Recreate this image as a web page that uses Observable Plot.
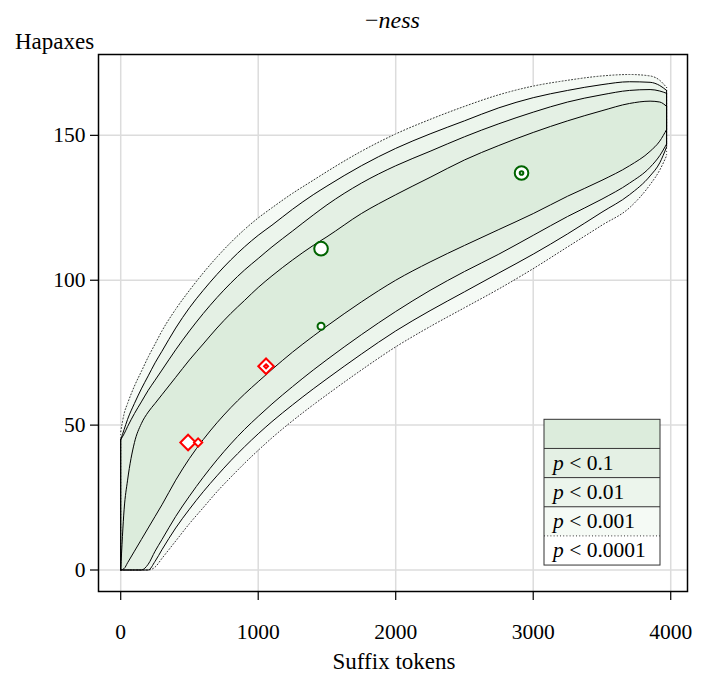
<!DOCTYPE html>
<html>
<head>
<meta charset="utf-8">
<script src="https://cdn.jsdelivr.net/npm/d3@7"></script>
<script src="https://cdn.jsdelivr.net/npm/@observablehq/plot@0.6"></script>
<style>
  html, body { margin: 0; padding: 0; background: #ffffff; }
  #chart { width: 705px; height: 676px; }
</style>
</head>
<body>
<div id="chart"></div>
<script>
// ---- data ----
const tokens        = [0, 25, 50, 100, 150, 200, 250, 300, 400, 500, 600, 700, 800, 900, 1000, 1100, 1250, 1400, 1500, 1750, 2000, 2250, 2500, 2750, 3000, 3250, 3500, 3700, 3850, 3920, 3970];
const dottedUpper   = [47.7, 54, 57.5, 63.5, 68.5, 73.5, 78, 82.5, 90, 96.5, 102.5, 108, 113, 117.5, 121.5, 125, 130, 134.5, 137.5, 144.5, 150.5, 155.5, 160, 164, 167, 169, 170.5, 171, 170.5, 169, 166.5];
const p001Upper     = [45, 48.5, 52, 57.5, 62.5, 67, 71.5, 75.5, 83.5, 90.5, 96.5, 102, 107, 111.5, 115.5, 119, 124.5, 129.5, 132.5, 139.5, 145.5, 150.5, 155, 159.5, 163, 165.5, 167.5, 168.5, 168.3, 167.2, 165.5];
const p01Upper      = [45, 47, 49.5, 54, 58, 62, 65.5, 69, 76, 82.5, 88.5, 94, 99, 103.5, 107.5, 111.5, 117, 122.5, 126, 133.5, 139.5, 144.5, 149.5, 154, 158, 161.5, 164, 165.5, 165.8, 165.3, 164.5];
const p1Upper       = [0, 21, 31, 44, 50.5, 54.5, 57.5, 60.5, 66.5, 72.5, 78, 83.5, 88.5, 93, 97.5, 101.5, 107, 112, 115, 123, 129.5, 135.5, 141.5, 146.5, 151, 155, 158.5, 161, 161.8, 161.5, 160];
const p1Lower       = [0, 0.5, 2.5, 6.5, 10.5, 14.5, 18.5, 22.5, 31, 38.5, 45, 50.8, 56, 60.7, 65, 69.2, 75.2, 80.7, 84.2, 92.5, 100, 106.3, 112, 117.5, 123, 129, 134.5, 139.5, 144.5, 148, 152];
const p01Lower      = [0, 0, 0, 0, 0, 2, 6.5, 10.5, 18.5, 25.5, 32, 38, 43.5, 48.5, 53, 57.3, 63.3, 69, 72.6, 81.2, 89.2, 96.5, 103, 109, 115.5, 122, 128, 133.5, 139, 143, 147];
const p001Lower     = [0, 0, 0, 0, 0, 0, 3, 7, 14.5, 21, 27, 32.5, 37.7, 42.5, 47, 51.2, 57, 62.5, 66, 74.5, 82.5, 89.5, 96, 102.5, 109, 116, 123.5, 129.5, 136, 140.5, 146];
const dottedLower   = [0, 0, 0, 0, 0, 0, 1, 4, 10, 16, 21.5, 27, 32, 36.8, 41.3, 45.6, 51.5, 57, 60.5, 69, 77, 84, 90.5, 97, 104, 111.5, 119, 125, 133, 138, 143];

const pointTokens  = [490, 563, 1057, 1057, 1457, 1457, 2915, 2915];
const pointHapaxes = [44, 44, 70.3, 70.3, 110.9, 84.1, 137, 137];
const pointShape   = ["diamond", "diamond", "diamond", "diamond", "circle", "circle", "circle", "circle"];
const pointSize    = ["large", "small", "large", "dot", "large", "small", "large", "dot"];

const xTicks = [0, 1000, 2000, 3000, 4000];
const yTicks = [0, 50, 100, 150];
const legendLabels = ["", "0.1", "0.01", "0.001", "0.0001"];

const titleText = "ness";
const xLabel = "Suffix tokens";
const yLabel = "Hapaxes";

// ---- styles ----
const FONT = "'Liberation Serif', 'DejaVu Serif', serif";
const fillCenter = "#dcecdc", fillP1 = "#e4f0e4", fillP01 = "#ecf5ec", fillP001 = "#f5faf5";

const table = tokens.map((n, i) => ({
  n,
  dU: dottedUpper[i], aU: p001Upper[i], bU: p01Upper[i], cU: p1Upper[i],
  cL: p1Lower[i], bL: p01Lower[i], aL: p001Lower[i], dL: dottedLower[i]
}));
const ends = [table[0], table[table.length - 1]];

const levels = [
  {u: "dU", l: "dL", fill: fillP001, dotted: true},
  {u: "aU", l: "aL", fill: fillP01},
  {u: "bU", l: "bL", fill: fillP1},
  {u: "cU", l: "cL", fill: fillCenter}
];

const pts = pointTokens.map((n, i) => ({n, h: pointHapaxes[i], shape: pointShape[i], size: pointSize[i]}));
const symbolOf = {diamond: "diamond2", circle: "circle"};
const colorOf = {diamond: "#ff0000", circle: "#006400"};
const radiusOf = {
  diamond: {large: 7, small: 3.7, dot: 1.8},
  circle: {large: 6.8, small: 3.5, dot: 1.8}
};

const dotMarks = [];
for (const size of ["large", "small", "dot"]) {
  for (const shape of ["diamond", "circle"]) {
    const sub = pts.filter(d => d.shape === shape && d.size === size);
    if (!sub.length) continue;
    dotMarks.push(Plot.dot(sub, {
      x: "n", y: "h", symbol: symbolOf[shape], r: radiusOf[shape][size],
      stroke: colorOf[shape], fill: "white", strokeWidth: 2
    }));
  }
}

const lineStyle = L => L.dotted
  ? {stroke: "#333", strokeWidth: 1, strokeDasharray: "1,2.2"}
  : {stroke: "black", strokeWidth: 1};

const plot = Plot.plot({
  width: 705,
  height: 676,
  marginLeft: 98,
  marginRight: 18,
  marginTop: 54,
  marginBottom: 85,
  style: {fontFamily: FONT, fontSize: "21.5px", color: "black", background: "white"},
  x: {domain: [-161.5, 4122]},
  y: {domain: [-7.42, 177.9]},
  marks: [
    Plot.gridX({ticks: xTicks, stroke: "#dcdcdc", strokeOpacity: 1, strokeWidth: 1.5}),
    Plot.gridY({ticks: yTicks, stroke: "#dcdcdc", strokeOpacity: 1, strokeWidth: 1.5}),
    ...levels.map(L => Plot.areaY(table, {x: "n", y1: L.l, y2: L.u, fill: L.fill, curve: "monotone-x"})),
    ...levels.flatMap(L => [
      Plot.line(table, {x: "n", y: L.u, curve: "monotone-x", ...lineStyle(L)}),
      Plot.line(table, {x: "n", y: L.l, curve: "monotone-x", ...lineStyle(L)}),
      Plot.ruleX(ends, {x: "n", y1: L.l, y2: L.u, ...lineStyle(L)})
    ]),
    ...dotMarks,
    Plot.frame({stroke: "black", strokeWidth: 1.5}),
    Plot.axisX({ticks: xTicks, tickFormat: d => String(d), tickSize: 9, tickPadding: 23,
                label: null, stroke: "black", strokeWidth: 1.2, fontSize: 21.5}),
    Plot.axisY({ticks: yTicks, tickFormat: d => String(d), tickSize: 8, tickPadding: 5,
                label: null, stroke: "black", strokeWidth: 1.2, fontSize: 21.5})
  ]
});

document.getElementById("chart").appendChild(plot);

// ---- titles, labels and legend ----
const svg = d3.select(plot);
const t = svg.append("text")
  .attr("x", 392.5).attr("y", 28).attr("text-anchor", "middle")
  .attr("font-family", FONT).attr("font-size", 24).attr("fill", "black");
t.append("tspan").text("\u2212");
t.append("tspan").attr("font-style", "italic").text(titleText);

svg.append("text").attr("x", 15).attr("y", 49).attr("text-anchor", "start")
  .attr("font-family", FONT).attr("font-size", 23).attr("fill", "black").text(yLabel);

svg.append("text").attr("x", 394).attr("y", 669).attr("text-anchor", "middle")
  .attr("font-family", FONT).attr("font-size", 23).attr("fill", "black").text(xLabel);

const lgLeft = 544, lgTop = 419.3, lgW = 116, lgH = 29.15;
const lgFills = [fillCenter, fillP1, fillP01, fillP001, "#ffffff"];
const lg = svg.append("g");
legendLabels.forEach((lab, k) => {
  lg.append("rect").attr("x", lgLeft).attr("y", lgTop + k * lgH)
    .attr("width", lgW).attr("height", lgH).attr("fill", lgFills[k]);
  if (lab) {
    const tx = lg.append("text").attr("x", lgLeft + 9).attr("y", lgTop + k * lgH + 21.5)
      .attr("text-anchor", "start")
      .attr("font-family", FONT).attr("font-size", 21.5).attr("fill", "black");
    tx.append("tspan").attr("font-style", "italic").text("p");
    tx.append("tspan").text(" < " + lab);
  }
});
for (let k = 1; k < legendLabels.length; k++) {
  lg.append("line").attr("x1", lgLeft).attr("x2", lgLeft + lgW)
    .attr("y1", lgTop + k * lgH).attr("y2", lgTop + k * lgH)
    .attr("stroke", "#333").attr("stroke-width", 1)
    .attr("stroke-dasharray", k === legendLabels.length - 1 ? "1,2.2" : null);
}
lg.append("rect").attr("x", lgLeft).attr("y", lgTop)
  .attr("width", lgW).attr("height", lgH * legendLabels.length)
  .attr("fill", "none").attr("stroke", "#333").attr("stroke-width", 1);
</script>
</body>
</html>
